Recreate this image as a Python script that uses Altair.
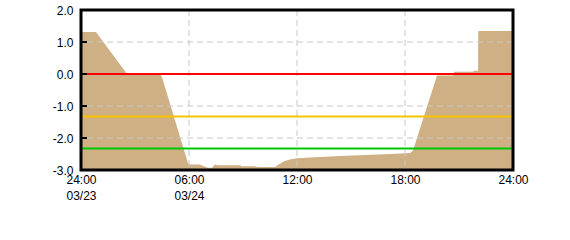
import altair as alt
import pandas as pd

# Area series (hours since 03/23 24:00, level)
hours = [0.0, 0.83, 2.56, 4.39, 4.5, 5.94, 6.05, 6.6, 6.9, 7.05, 7.28, 7.44, 7.6,
         8.83, 8.94, 9.67, 9.78, 10.78, 11.06, 11.33, 11.6, 12.0, 13.0, 14.4,
         15.8, 17.2, 18.3, 18.44, 19.78, 20.67, 20.72, 21.78, 21.83, 22.06, 22.07, 24.0]
levels = [1.31, 1.31, 0.0, 0.0, -0.1, -2.78, -2.83, -2.83, -2.9, -2.93, -2.93, -2.83, -2.85,
          -2.85, -2.88, -2.88, -2.91, -2.91, -2.8, -2.72, -2.67, -2.63, -2.6, -2.56,
          -2.53, -2.5, -2.47, -2.4, -0.05, -0.05, 0.07, 0.07, 0.1, 0.1, 1.34, 1.34]

# Threshold lines
thr_values = [0.0, -1.33, -2.33]
thr_colors = ["#FF0000", "#F5C400", "#00C800"]

# Axis ticks / grid
x_ticks = [0, 6, 12, 18, 24]
x_grid = [6, 12, 18]
y_ticks = [-3, -2, -1, 0, 1, 2]
y_grid = [1, -1, -2]

area_df = pd.DataFrame({"h": hours, "v": levels})
thr_df = pd.DataFrame({"v": thr_values, "c": thr_colors})
xg_df = pd.DataFrame({"h": x_grid})
yg_df = pd.DataFrame({"v": y_grid})
yt_df = pd.DataFrame({"v": y_ticks})

FONT = "Liberation Sans"

xscale = alt.Scale(domain=[0, 24], nice=False, zero=False)
yscale = alt.Scale(domain=[-3, 2], nice=False, zero=False)

x_label_expr = ("datum.value == 0 ? ['24:00','03/23'] : datum.value == 6 ? ['06:00','03/24'] : "
                "datum.value == 12 ? '12:00' : datum.value == 18 ? '18:00' : '24:00'")
y_label_expr = ("datum.value < 0 ? '-' + format(-datum.value, '.1f') : format(datum.value, '.1f')")

xaxis = alt.Axis(values=x_ticks, labelExpr=x_label_expr, title=None,
                 grid=False, ticks=False, domain=False,
                 labelFont=FONT, labelFontSize=12, labelColor="black",
                 labelPadding=4, labelLineHeight=16,
                 labelFlush=False, labelOverlap=False)
yaxis = alt.Axis(values=y_ticks, labelExpr=y_label_expr, title=None,
                 grid=False, ticks=False, domain=False,
                 labelFont=FONT, labelFontSize=12, labelColor="black",
                 labelPadding=8, labelFlush=False, labelOverlap=False)

area = alt.Chart(area_df).mark_area(color="#CFB084", interpolate="linear", clip=True).encode(
    x=alt.X("h:Q", scale=xscale, axis=xaxis),
    y=alt.Y("v:Q", scale=yscale, axis=yaxis),
    y2=alt.datum(-3),
)

vgrid = alt.Chart(xg_df).mark_rule(color="#C8C8C8", strokeWidth=1, strokeDash=[6, 4]).encode(
    x=alt.X("h:Q", scale=xscale, axis=xaxis)
)
hgrid = alt.Chart(yg_df).mark_rule(color="#C8C8C8", strokeWidth=1, strokeDash=[6, 4]).encode(
    y=alt.Y("v:Q", scale=yscale, axis=yaxis)
)
thr = alt.Chart(thr_df).mark_rule(strokeWidth=2).encode(
    y=alt.Y("v:Q", scale=yscale, axis=yaxis),
    color=alt.Color("c:N", scale=None, legend=None),
)
yticks = alt.Chart(yt_df).mark_rule(color="black", strokeWidth=2).encode(
    y=alt.Y("v:Q", scale=yscale, axis=yaxis),
    x=alt.value(0),
    x2=alt.value(6),
)
frame = alt.Chart(pd.DataFrame({"k": [0]})).mark_rect(
    filled=False, fill=None, stroke="black", strokeWidth=3
).encode(
    x=alt.X(datum=0, scale=xscale, axis=xaxis),
    x2=alt.datum(24),
    y=alt.Y(datum=-3, scale=yscale, axis=yaxis),
    y2=alt.datum(2),
)

chart = alt.layer(area, vgrid, hgrid, thr, yticks, frame).properties(
    width=432, height=160,
    autosize=alt.AutoSizeParams(type="none"),
    padding={"left": 81, "top": 10, "right": 57, "bottom": 70},
).configure(background="white").configure_view(stroke=None)

chart.save("out.html", embed_options={"renderer": "svg", "actions": False})
